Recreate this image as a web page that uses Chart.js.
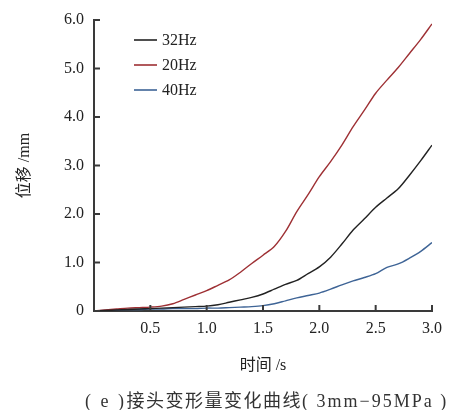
<!DOCTYPE html>
<html>
<head>
<meta charset="utf-8">
<script src="https://cdn.jsdelivr.net/npm/chart.js@4"></script>
<style>
  body{margin:0;background:#fff;}
  #wrap{position:relative;width:452px;height:410px;overflow:hidden;}
  #caption{position:absolute;left:85px;top:386px;white-space:nowrap;line-height:20px;
    font:18px "Liberation Serif","Noto Sans CJK SC",serif;color:#333;letter-spacing:1.5px;}
  #caption .lat{letter-spacing:2.5px;}
  #caption .lat2{letter-spacing:2px;}
</style>
</head>
<body>
<div id="wrap">
  <canvas id="c" width="452" height="410"></canvas>
  <div id="caption"><span class="lat">( e )</span>接头变形量变化曲线<span class="lat2">( 3mm−95MPa )</span></div>
</div>
<script>
// time axis (s)
const times = [0,0.1,0.2,0.3,0.4,0.5,0.6,0.7,0.8,0.9,1.0,1.1,1.2,1.3,1.4,1.5,1.6,1.7,1.8,1.9,2.0,2.1,2.2,2.3,2.4,2.5,2.6,2.7,2.8,2.9,3.0];
// displacement (mm)
const hz32 = [0,0.01,0.02,0.03,0.04,0.05,0.06,0.07,0.08,0.09,0.10,0.13,0.18,0.23,0.28,0.35,0.45,0.55,0.63,0.77,0.91,1.11,1.38,1.67,1.90,2.14,2.33,2.52,2.80,3.10,3.42];
const hz20 = [0,0.02,0.04,0.06,0.07,0.08,0.10,0.15,0.24,0.33,0.42,0.53,0.64,0.80,0.98,1.15,1.33,1.64,2.05,2.40,2.77,3.08,3.42,3.80,4.14,4.49,4.76,5.02,5.31,5.60,5.92];
const hz40 = [0,0.01,0.02,0.03,0.03,0.04,0.04,0.05,0.05,0.05,0.06,0.06,0.07,0.08,0.09,0.11,0.15,0.21,0.27,0.32,0.37,0.45,0.54,0.62,0.69,0.77,0.90,0.97,1.09,1.23,1.41];
const seriesLabels = ['32Hz','20Hz','40Hz'];
const xTicks = [0.5,1.0,1.5,2.0,2.5,3.0];
const yTicks = [0,1,2,3,4,5,6];

const font = '"Liberation Serif","Noto Sans CJK SC",serif';
const axisColor = '#3a3a3a';

const pts = arr => arr.map((v,i)=>({x:times[i], y:v}));

// inward tick marks
const innerTicks = {
  id:'innerTicks',
  afterDraw(chart){
    const {ctx, chartArea:a, scales:{x,y}} = chart;
    ctx.save();
    ctx.strokeStyle = axisColor; ctx.lineWidth = 2;
    xTicks.forEach(v=>{
      const px = x.getPixelForValue(v);
      ctx.beginPath(); ctx.moveTo(px,a.bottom); ctx.lineTo(px,a.bottom-6); ctx.stroke();
    });
    yTicks.forEach(v=>{
      const py = y.getPixelForValue(v);
      ctx.beginPath(); ctx.moveTo(a.left,py); ctx.lineTo(a.left+6,py); ctx.stroke();
    });
    ctx.restore();
  }
};

// legend inside plot
const innerLegend = {
  id:'innerLegend',
  afterDraw(chart){
    const ctx = chart.ctx;
    ctx.save();
    ctx.font = '16px ' + font;
    ctx.textBaseline = 'middle';
    chart.data.datasets.forEach((ds,i)=>{
      const yy = 40 + i*25;
      ctx.strokeStyle = ds.borderColor; ctx.lineWidth = 1.6;
      ctx.beginPath(); ctx.moveTo(134,yy); ctx.lineTo(157,yy); ctx.stroke();
      ctx.fillStyle = '#222';
      ctx.fillText(ds.label, 162, yy+1);
    });
    ctx.restore();
  }
};

new Chart(document.getElementById('c'), {
  type:'line',
  data:{
    datasets:[
      {label:seriesLabels[0], data:pts(hz32), borderColor:'#222222'},
      {label:seriesLabels[1], data:pts(hz20), borderColor:'#9e3034'},
      {label:seriesLabels[2], data:pts(hz40), borderColor:'#3e6496'}
    ]
  },
  options:{
    responsive:false, animation:false,
    elements:{point:{radius:0}, line:{borderWidth:1.4, tension:0.3}},
    layout:{padding:{left:0, right:20, top:20, bottom:29}},
    plugins:{legend:{display:false}, tooltip:{enabled:false}},
    scales:{
      x:{
        type:'linear', min:0, max:3,
        afterFit(s){ s.height = 70; },
        afterBuildTicks(s){ s.ticks = xTicks.map(v=>({value:v})); },
        grid:{display:true, drawOnChartArea:false, drawTicks:false},
        border:{color:axisColor, width:2},
        ticks:{padding:8, color:'#222', font:{family:font, size:16}, callback:v=>v.toFixed(1)},
        title:{display:true, text:'时间 /s', color:'#222', font:{family:font, size:16}, padding:{top:0,bottom:6}}
      },
      y:{
        min:0, max:6,
        afterFit(s){ s.width = 94; },
        afterBuildTicks(s){ s.ticks = yTicks.map(v=>({value:v})); },
        grid:{display:true, drawOnChartArea:false, drawTicks:false},
        border:{color:axisColor, width:2},
        ticks:{padding:10, color:'#222', font:{family:font, size:16}, callback:v=>v===0?'0':v.toFixed(1)},
        title:{display:true, text:'位移 /mm', color:'#222', font:{family:font, size:16}, padding:{top:15,bottom:0}}
      }
    }
  },
  plugins:[innerTicks, innerLegend]
});
</script>
</body>
</html>
